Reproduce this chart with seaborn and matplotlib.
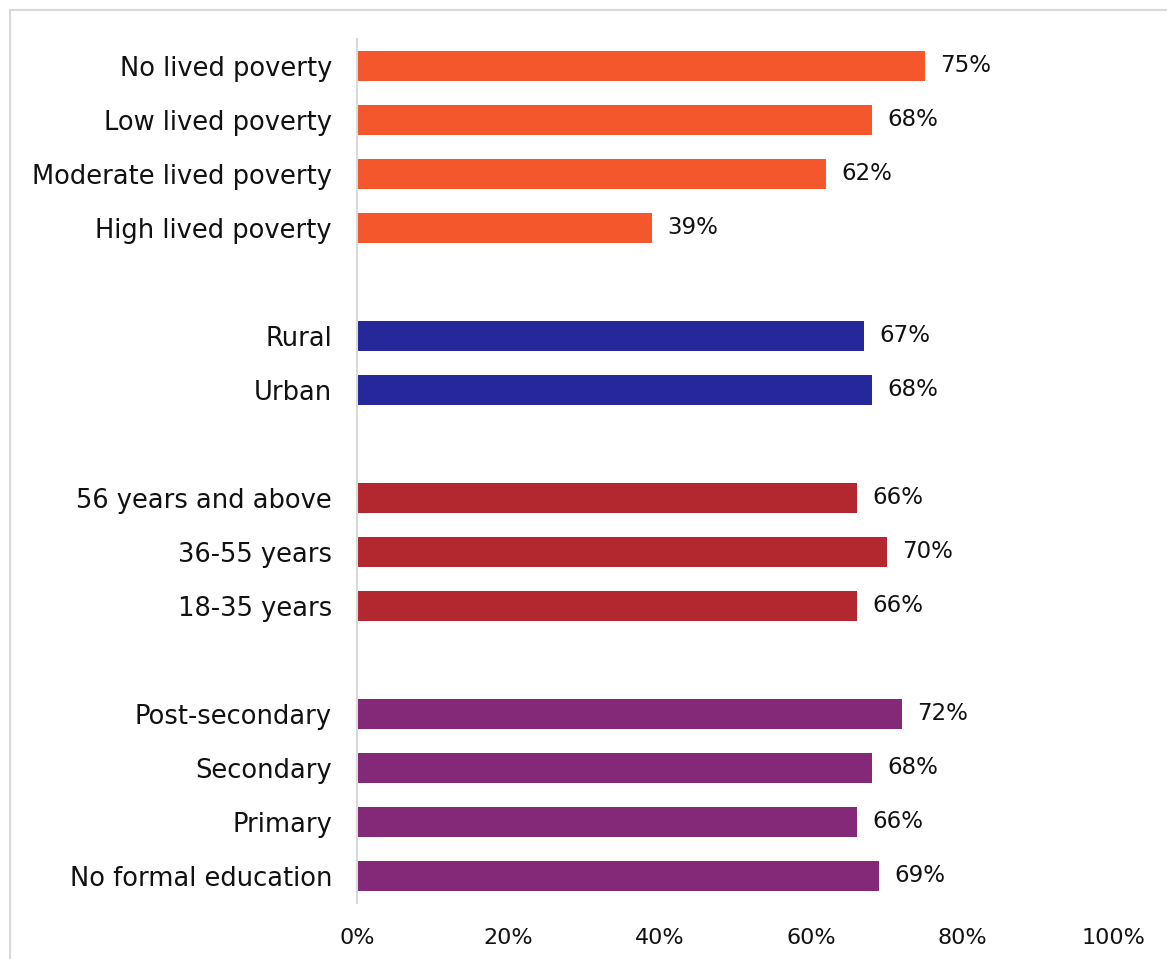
import matplotlib
matplotlib.use("Agg")
import matplotlib.pyplot as plt
import seaborn as sns
import pandas as pd
from matplotlib.lines import Line2D
from matplotlib.ticker import FuncFormatter

categories = ["No lived poverty", "Low lived poverty", "Moderate lived poverty", "High lived poverty",
              "Rural", "Urban",
              "56 years and above", "36-55 years", "18-35 years",
              "Post-secondary", "Secondary", "Primary", "No formal education"]
values = [75, 68, 62, 39,
          67, 68,
          66, 70, 66,
          72, 68, 66, 69]
groups = ["Lived poverty"] * 4 + ["Location"] * 2 + ["Age"] * 3 + ["Education"] * 4
group_colors = {"Lived poverty": "#F3572B", "Location": "#25279B", "Age": "#B3282F", "Education": "#842878"}
order = categories[:4] + [" "] + categories[4:6] + ["  "] + categories[6:9] + ["   "] + categories[9:]
xticks = [0, 20, 40, 60, 80, 100]

df = pd.DataFrame({"category": categories, "value": values, "group": groups})

sns.set_theme(style="white")
plt.rcParams["font.family"] = ["DejaVu Sans"]

fig = plt.figure(figsize=(11.67, 9.59), dpi=100)
ax = fig.add_axes([357 / 1167, 56 / 959, (1114 - 357) / 1167, 864 / 959])

sns.barplot(data=df, y="category", x="value", hue="group", order=order,
            palette=group_colors, width=0.556, dodge=False, legend=False,
            saturation=1, linewidth=0, ax=ax)

for cont in ax.containers:
    ax.bar_label(cont, labels=[f"{int(round(b.get_width()))}%" for b in cont],
                 padding=11, fontsize=16.5, color="#111111")

ax.set_xlim(0, 100)
ax.set_xticks(xticks)
ax.xaxis.set_major_formatter(FuncFormatter(lambda v, p: f"{int(v)}%"))
ax.set_xlabel("")
ax.set_ylabel("")
ax.tick_params(axis="x", length=0, pad=18, labelsize=16, labelcolor="#111111")
ax.tick_params(axis="y", length=0, pad=18, labelsize=18.5, labelcolor="#111111")
for s in ["top", "right", "bottom"]:
    ax.spines[s].set_visible(False)
ax.spines["left"].set_color("#D9D9D9")
ax.spines["left"].set_linewidth(1.5)
ax.grid(False)

ytop = (959 - 10) / 959
xl = 10 / 1167
fig.add_artist(Line2D([xl, 1], [ytop, ytop], transform=fig.transFigure, color="#D9D9D9", lw=1.5))
fig.add_artist(Line2D([xl, xl], [0, ytop], transform=fig.transFigure, color="#D9D9D9", lw=1.5))

fig.savefig("out.png", dpi=100, facecolor="white")
